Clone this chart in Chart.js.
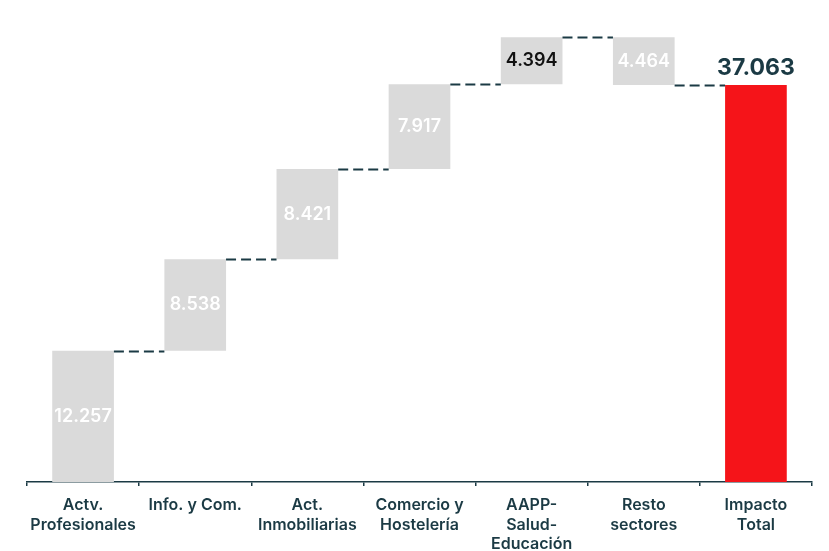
<!DOCTYPE html>
<html>
<head>
<meta charset="utf-8">
<script src="https://cdn.jsdelivr.net/npm/chart.js@4"></script>
<style>
html,body{margin:0;padding:0;background:#fff;}
#wrap{width:829px;height:551px;position:relative;}
</style>
</head>
<body>
<div id="wrap"><canvas id="c" width="829" height="551"></canvas></div>
<script>
// ---- data ----
const categories = [["Actv.","Profesionales"],["Info. y Com."],["Act.","Inmobiliarias"],["Comercio y","Hostelería"],["AAPP-","Salud-","Educación"],["Resto","sectores"],["Impacto","Total"]];
const changes = [12257, 8538, 8421, 7917, 4394, -4464];
const totalValue = 37063;
const valueLabels = ["12.257","8.538","8.421","7.917","4.394","4.464","37.063"];

// ---- styles ----
const GRAY = "#dadada";
const RED = "#f51419";
const DARK = "#1b3a44";

// floating ranges built from the changes
const ranges = [];
let cum = 0;
changes.forEach(v => { ranges.push([cum, cum + v]); cum += v; });
ranges.push([0, totalValue]);
const colors = ranges.map((r, i) => i === ranges.length - 1 ? RED : GRAY);
const labelColors = ["#ffffff","#ffffff","#ffffff","#ffffff","#111111","#ffffff",DARK];

const connectorPlugin = {
  id: "connectors",
  afterDatasetsDraw(chart) {
    const ctx = chart.ctx;
    const meta = chart.getDatasetMeta(0);
    const y = chart.scales.y;
    ctx.save();
    ctx.strokeStyle = DARK;
    ctx.lineWidth = 2;
    ctx.setLineDash([10, 5]);
    for (let i = 0; i < ranges.length - 1; i++) {
      const a = meta.data[i], b = meta.data[i + 1];
      const level = ranges[i][1];
      const py = Math.round(y.getPixelForValue(level)) + 0.5;
      ctx.beginPath();
      ctx.moveTo(a.x + a.width / 2, py);
      ctx.lineTo(b.x - b.width / 2, py);
      ctx.stroke();
    }
    ctx.restore();
  }
};

const labelPlugin = {
  id: "valueLabels",
  afterDatasetsDraw(chart) {
    const ctx = chart.ctx;
    const meta = chart.getDatasetMeta(0);
    const y = chart.scales.y;
    ctx.save();
    ctx.textAlign = "center";
    meta.data.forEach((bar, i) => {
      const r = ranges[i];
      if (i === ranges.length - 1) {
        ctx.font = "700 23px Inter, 'DejaVu Sans', sans-serif";
        ctx.fillStyle = DARK;
        ctx.textBaseline = "bottom";
        ctx.fillText(valueLabels[i], bar.x, y.getPixelForValue(r[1]) - 5);
      } else {
        const mid = (y.getPixelForValue(r[0]) + y.getPixelForValue(r[1])) / 2;
        ctx.font = "600 18px Inter, 'DejaVu Sans', sans-serif";
        ctx.fillStyle = labelColors[i];
        ctx.textBaseline = "middle";
        ctx.fillText(valueLabels[i], bar.x, mid);
      }
    });
    ctx.restore();
  }
};

new Chart(document.getElementById("c"), {
  type: "bar",
  data: {
    labels: categories,
    datasets: [{
      data: ranges,
      backgroundColor: colors,
      borderWidth: 0,
      categoryPercentage: 1,
      barPercentage: 0.55
    }]
  },
  options: {
    responsive: false,
    animation: false,
    layout: { padding: { left: 27, right: 17, top: 0, bottom: 0 } },
    plugins: { legend: { display: false }, tooltip: { enabled: false } },
    scales: {
      y: { display: false, min: 0, max: 45000 },
      x: {
        afterFit(scale) { scale.height = 69; },
        border: { display: true, color: DARK, width: 1.5 },
        grid: { display: true, drawOnChartArea: false, drawTicks: true, tickLength: 4, color: DARK, lineWidth: 1.5, offset: true },
        ticks: {
          color: DARK,
          padding: 10,
          maxRotation: 0,
          autoSkip: false,
          font: { family: "Inter, 'DejaVu Sans', sans-serif", size: 16, weight: "600", lineHeight: 1.2 }
        }
      }
    }
  },
  plugins: [connectorPlugin, labelPlugin]
});
</script>
</body>
</html>
